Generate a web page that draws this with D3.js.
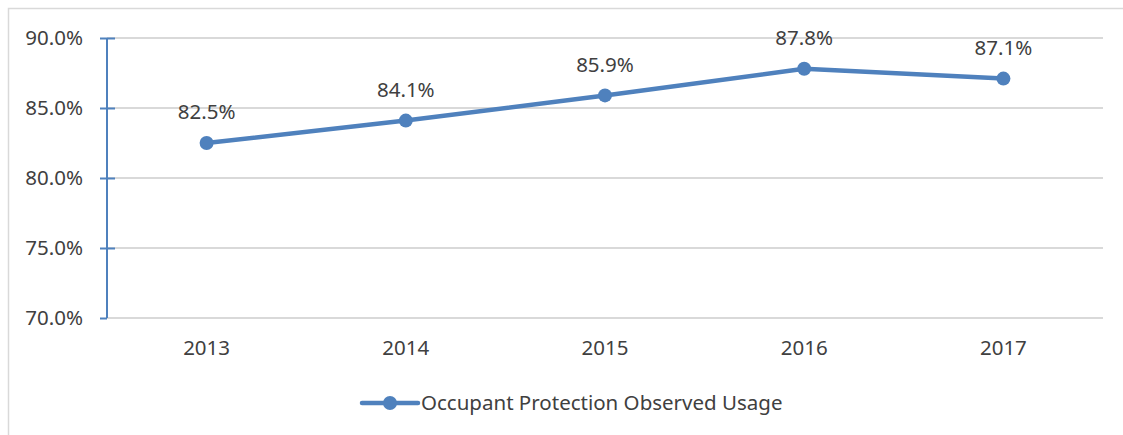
<!DOCTYPE html>
<html>
<head>
<meta charset="utf-8">
<script src="https://cdn.jsdelivr.net/npm/d3@7"></script>
<style>
  body { margin: 0; background: #fff; }
  text { font-family: "Noto Sans", sans-serif; fill: #404040; }
</style>
</head>
<body>
<div id="chart"></div>
<script>
const years = ["2013", "2014", "2015", "2016", "2017"];
const usage = [82.5, 84.1, 85.9, 87.8, 87.1];
const yTicks = [70, 75, 80, 85, 90];
const seriesName = "Occupant Protection Observed Usage";

const WIDTH = 1123;
const HEIGHT = 435;
const LINE_COLOR = "#4f81bd";
const GRID_COLOR = "#d9d9d9";
const FONT_SIZE = 20.5;

const plot = { left: 107, right: 1103, top: 38, bottom: 318 };

const svg = d3.select("#chart")
  .append("svg")
  .attr("width", WIDTH)
  .attr("height", HEIGHT);

// chart frame (runs off the right/bottom edges)
svg.append("rect")
  .attr("x", 8.5)
  .attr("y", 8.5)
  .attr("width", WIDTH + 20)
  .attr("height", HEIGHT + 20)
  .attr("fill", "#fff")
  .attr("stroke", GRID_COLOR)
  .attr("stroke-width", 1.5);

const x = d3.scaleBand()
  .domain(years)
  .range([plot.left, plot.right]);

const y = d3.scaleLinear()
  .domain([70, 90])
  .range([plot.bottom, plot.top]);

// gridlines
svg.append("g")
  .selectAll("line")
  .data(yTicks)
  .join("line")
  .attr("x1", plot.left)
  .attr("x2", plot.right)
  .attr("y1", (d) => y(d))
  .attr("y2", (d) => y(d))
  .attr("stroke", GRID_COLOR)
  .attr("stroke-width", 2);

// y axis
const yAxis = svg.append("g")
  .attr("transform", `translate(${plot.left},0)`)
  .call(
    d3.axisLeft(y)
      .tickValues(yTicks)
      .tickSize(7)
      .tickPadding(17)
      .tickFormat((d) => d.toFixed(1) + "%")
  );
yAxis.select(".domain").attr("stroke", LINE_COLOR).attr("stroke-width", 2)
  .attr("d", `M0,${plot.top}V${plot.bottom}`);
yAxis.selectAll(".tick line")
  .attr("stroke", LINE_COLOR)
  .attr("stroke-width", 2)
  .attr("x1", (d) => (d === 70 ? 0 : 8));
yAxis.selectAll(".tick text")
  .attr("font-size", FONT_SIZE)
  .attr("font-family", "Noto Sans, sans-serif")
  .attr("fill", "#595959");

// x axis labels
const xAxis = svg.append("g")
  .attr("transform", `translate(0,${plot.bottom})`)
  .call(d3.axisBottom(x).tickSize(0).tickPadding(22));
xAxis.select(".domain").remove();
xAxis.selectAll(".tick text")
  .attr("font-size", FONT_SIZE)
  .attr("font-family", "Noto Sans, sans-serif")
  .attr("fill", "#595959");

// series line
const cx = (d, i) => x(years[i]) + x.bandwidth() / 2;
const line = d3.line()
  .x((d, i) => cx(d, i))
  .y((d) => y(d));

svg.append("path")
  .datum(usage)
  .attr("d", line)
  .attr("fill", "none")
  .attr("stroke", LINE_COLOR)
  .attr("stroke-width", 4.5)
  .attr("stroke-linejoin", "round");

svg.append("g")
  .selectAll("circle")
  .data(usage)
  .join("circle")
  .attr("cx", cx)
  .attr("cy", (d) => y(d))
  .attr("r", 7)
  .attr("fill", LINE_COLOR);

// data labels
svg.append("g")
  .selectAll("text")
  .data(usage)
  .join("text")
  .attr("x", cx)
  .attr("y", (d) => y(d) - 31)
  .attr("dy", "0.35em")
  .attr("text-anchor", "middle")
  .attr("font-size", FONT_SIZE)
  .text((d) => d.toFixed(1) + "%");

// legend
const legend = svg.append("g").attr("transform", "translate(362,403)");
legend.append("line")
  .attr("x1", 0)
  .attr("x2", 56)
  .attr("stroke", LINE_COLOR)
  .attr("stroke-width", 4.5)
  .attr("stroke-linecap", "round");
legend.append("circle")
  .attr("cx", 28)
  .attr("r", 7)
  .attr("fill", LINE_COLOR);
legend.append("text")
  .attr("x", 59)
  .attr("dy", "0.35em")
  .attr("font-size", FONT_SIZE)
  .attr("fill", "#595959")
  .text(seriesName);
</script>
</body>
</html>
